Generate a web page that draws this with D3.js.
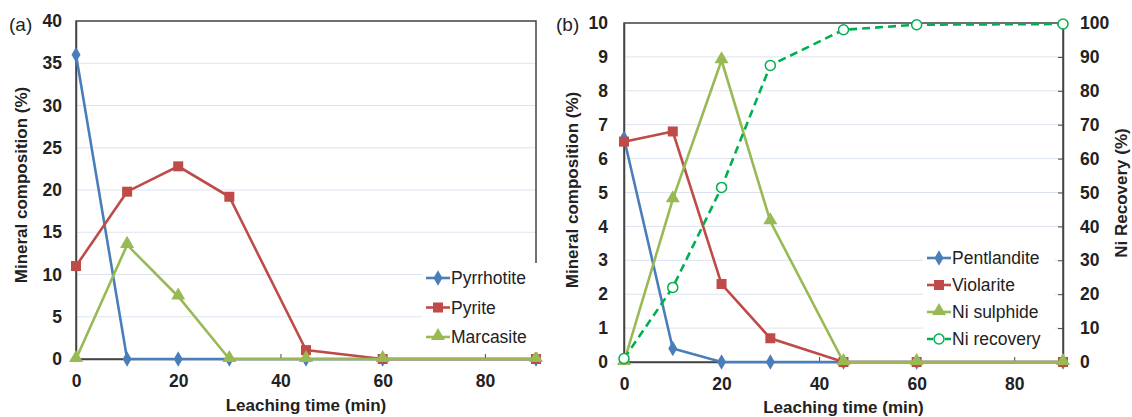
<!DOCTYPE html>
<html>
<head>
<meta charset="utf-8">
<script src="https://cdn.jsdelivr.net/npm/d3@7"></script>
<style>
  body { margin: 0; background: #fff; }
  svg { font-family: "Liberation Sans", Arial, sans-serif; }
  .tick text { font-weight: bold; font-size: 17.5px; fill: #222; }
  .axis-title { font-weight: bold; font-size: 17px; fill: #222; }
  .legend text { font-size: 17.5px; fill: #222; }
</style>
</head>
<body>
<svg id="chart" width="1132" height="417"></svg>
<script>
// Дані
var times = [0, 10, 20, 30, 45, 60, 90];

var pyrrhotite = [36, 0, 0, 0, 0, 0, 0];
var pyrite = [11, 19.8, 22.8, 19.2, 1.05, 0, 0];
var marcasite = [0, 13.5, 7.4, 0, 0, 0, 0];

var pentlandite = [6.6, 0.4, 0, 0, 0, 0, 0];
var violarite = [6.5, 6.8, 2.3, 0.7, 0, 0, 0];
var niSulphide = [0, 4.8, 8.9, 4.15, 0, 0, 0];
var niRecovery = [1, 22, 51.5, 87.5, 98, 99.5, 99.7];

var xTicks = [0, 20, 40, 60, 80];
var yTicksA = [0, 5, 10, 15, 20, 25, 30, 35, 40];
var yTicksB = [0, 1, 2, 3, 4, 5, 6, 7, 8, 9, 10];
var yTicksR = [0, 10, 20, 30, 40, 50, 60, 70, 80, 90, 100];

var colors = { blue: "#4a7ebb", red: "#be4b48", green: "#98b954", ni: "#00b050" };

var svg = d3.select("#chart");

// Маркери
function marker(g, shape, color, x, y) {
    if (shape === "diamond") {
        g.append("path").attr("d", d3.symbol(d3.symbolDiamond, 70)())
            .attr("transform", "translate(" + x + "," + y + ")").attr("fill", color);
    } else if (shape === "square") {
        g.append("rect").attr("x", x - 5).attr("y", y - 5).attr("width", 10).attr("height", 10)
            .attr("fill", color);
    } else if (shape === "triangle") {
        g.append("path").attr("d", d3.symbol(d3.symbolTriangle, 85)())
            .attr("transform", "translate(" + x + "," + (y - 1) + ")").attr("fill", color);
    } else if (shape === "circle") {
        g.append("circle").attr("cx", x).attr("cy", y).attr("r", 5)
            .attr("fill", "#fff").attr("stroke", color).attr("stroke-width", 1.5);
    }
}

function drawSeries(g, x, y, values, color, shape, dashed) {
    var data = times.map(function (t, i) { return [t, values[i]]; });
    var line = d3.line().x(function (d) { return x(d[0]); }).y(function (d) { return y(d[1]); });
    g.append("path").datum(data)
        .attr("fill", "none").attr("stroke", color).attr("stroke-width", 2.6)
        .attr("stroke-dasharray", dashed ? "8,5" : null)
        .attr("d", line);
    data.forEach(function (d) { marker(g, shape, color, x(d[0]), y(d[1])); });
}

function frame(g, x, y, yTicks, w, h, pad) {
    g.append("g").selectAll("line").data(yTicks.slice(1)).enter().append("line")
        .attr("x1", 0).attr("x2", w)
        .attr("y1", function (d) { return y(d); }).attr("y2", function (d) { return y(d); })
        .attr("stroke", "#dde4ef").attr("stroke-width", 1);
    g.append("rect").attr("width", w).attr("height", h)
        .attr("fill", "none").attr("stroke", "#444").attr("stroke-width", 1.5);

    var xa = g.append("g").attr("transform", "translate(0," + h + ")")
        .call(d3.axisBottom(x).tickValues(xTicks).tickSize(-5).tickPadding(16));
    xa.select(".domain").attr("stroke", "#444").attr("stroke-width", 1.5);
    xa.selectAll(".tick line").attr("stroke", "#444");

    var ya = g.append("g")
        .call(d3.axisLeft(y).tickValues(yTicks).tickSize(0).tickPadding(pad));
    ya.select(".domain").attr("stroke", "#444").attr("stroke-width", 1.5);
}

function legend(g, x0, y0, dy, items) {
    var lg = g.append("g").attr("class", "legend");
    // Білий фон легенди закриває лінії сітки
    lg.append("rect").attr("x", x0 - 4).attr("y", y0 - 15)
        .attr("width", 132).attr("height", dy * (items.length - 1) + 30)
        .attr("fill", "#fff");
    items.forEach(function (it, i) {
        var yy = y0 + i * dy;
        lg.append("line").attr("x1", x0).attr("x2", x0 + 24).attr("y1", yy).attr("y2", yy)
            .attr("stroke", it.color).attr("stroke-width", 2.6)
            .attr("stroke-dasharray", it.dashed ? "6,3" : null);
        marker(lg, it.shape, it.color, x0 + 12, yy);
        lg.append("text").attr("x", x0 + 25).attr("y", yy).attr("dy", "0.35em").text(it.name);
    });
}

// Панель (a)
var A = { left: 76, top: 21, w: 460, h: 338 };
var xA = d3.scaleLinear().domain([0, 90]).range([0, A.w]);
var yA = d3.scaleLinear().domain([0, 40]).range([A.h, 0]);
var gA = svg.append("g").attr("transform", "translate(" + A.left + "," + A.top + ")");
frame(gA, xA, yA, yTicksA, A.w, A.h, 14);
drawSeries(gA, xA, yA, pyrrhotite, colors.blue, "diamond");
drawSeries(gA, xA, yA, pyrite, colors.red, "square");
drawSeries(gA, xA, yA, marcasite, colors.green, "triangle");
legend(gA, 350, 257, 29.5, [
    { name: "Pyrrhotite", color: colors.blue, shape: "diamond" },
    { name: "Pyrite", color: colors.red, shape: "square" },
    { name: "Marcasite", color: colors.green, shape: "triangle" }
]);
svg.append("text").attr("x", 9).attr("y", 31).attr("font-size", 19).attr("fill", "#222").text("(a)");
svg.append("text").attr("class", "axis-title")
    .attr("transform", "translate(27," + 185 + ") rotate(-90)")
    .attr("text-anchor", "middle").text("Mineral composition (%)");
svg.append("text").attr("class", "axis-title")
    .attr("x", A.left + A.w / 2).attr("y", 411).attr("text-anchor", "middle")
    .text("Leaching time (min)");

// Панель (b)
var B = { left: 624, top: 23, w: 439, h: 339 };
var xB = d3.scaleLinear().domain([0, 90]).range([0, B.w]);
var yB = d3.scaleLinear().domain([0, 10]).range([B.h, 0]);
var yR = d3.scaleLinear().domain([0, 100]).range([B.h, 0]);
var gB = svg.append("g").attr("transform", "translate(" + B.left + "," + B.top + ")");
frame(gB, xB, yB, yTicksB, B.w, B.h, 16);
var ra = gB.append("g").attr("transform", "translate(" + B.w + ",0)")
    .call(d3.axisRight(yR).tickValues(yTicksR).tickSize(-5).tickPadding(17));
ra.select(".domain").attr("stroke", "#444").attr("stroke-width", 1.5);
ra.selectAll(".tick line").attr("stroke", "#444");

drawSeries(gB, xB, yB, pentlandite, colors.blue, "diamond");
drawSeries(gB, xB, yB, violarite, colors.red, "square");
drawSeries(gB, xB, yB, niSulphide, colors.green, "triangle");
drawSeries(gB, xB, yR, niRecovery, colors.ni, "circle", true);
legend(gB, 303, 235, 27, [
    { name: "Pentlandite", color: colors.blue, shape: "diamond" },
    { name: "Violarite", color: colors.red, shape: "square" },
    { name: "Ni sulphide", color: colors.green, shape: "triangle" },
    { name: "Ni recovery", color: colors.ni, shape: "circle", dashed: true }
]);
svg.append("text").attr("x", 556).attr("y", 31).attr("font-size", 19).attr("fill", "#222").text("(b)");
svg.append("text").attr("class", "axis-title")
    .attr("transform", "translate(578," + 190 + ") rotate(-90)")
    .attr("text-anchor", "middle").text("Mineral composition (%)");
svg.append("text").attr("class", "axis-title")
    .attr("transform", "translate(1127," + 193 + ") rotate(-90)")
    .attr("text-anchor", "middle").text("Ni Recovery (%)");
svg.append("text").attr("class", "axis-title")
    .attr("x", B.left + B.w / 2).attr("y", 413).attr("text-anchor", "middle")
    .text("Leaching time (min)");
</script>
</body>
</html>
